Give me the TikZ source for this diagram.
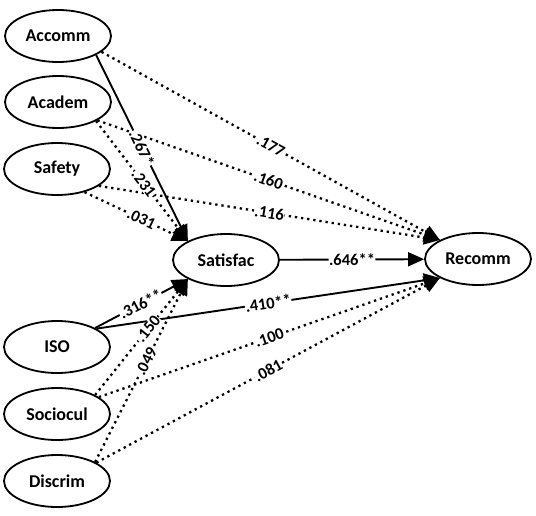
\documentclass[tikz,border=0pt]{standalone}
\usepackage{fontspec}
\setmainfont{Carlito}
\usetikzlibrary{shapes.geometric,arrows.meta}

\begin{document}
\begin{tikzpicture}[x=1pt, y=-1pt,
         var/.style={draw, ellipse, line width=1.8pt, minimum width=106pt, minimum height=52pt, inner sep=0pt, font=\fontsize{18}{18}\selectfont\bfseries},
         sig/.style={line width=1.9pt, -{Triangle[length=16pt,width=14pt]}},
         ns/.style={line width=2.3pt, dash pattern=on 2.3pt off 3.9pt, -{Triangle[length=16pt,width=14pt]}},
         coef/.style={fill=white, inner sep=0.5pt, sloped, font=\fontsize{16.5}{16.5}\selectfont\bfseries}]
         \useasboundingbox (0, 0) rectangle (536, 515);
         \node [var] (AC) at (58, 36) {Accomm}; 
         \node [var] (AD) at (58, 102) {Academ}; 
         \node [var] (SF) at (57, 169) {Safety}; 
         \node [var] (IS) at (57, 347) {ISO}; 
         \node [var] (SC) at (57, 414) {Sociocul}; 
         \node [var] (DS) at (57, 481) {Discrim}; 
         \node [var] (ST) at (226, 260) {Satisfac}; 
         \node [var] (RC) at (478, 259) {Recomm}; 
         \draw [ns] (AC.-20) -- node [coef] {.177} (RC.north west); 
         \draw [ns] (AD.-25) -- node [coef] {.160} (RC.north west); 
         \draw [ns] (SF.-22) -- node [coef] {.116} (RC.north west); 
         \draw [ns] (AD.south east) -- node [coef, pos=.52] {.231} (ST.north west); 
         \draw [ns] (SF.-40) -- node [coef, pos=.55] {.031} (ST.north west); 
         \draw [sig] (AC.south east) -- node [coef, pos=.5] {.267*} (ST.north west); 
         \draw [sig] (IS.25) -- node [coef] {.410**} (RC.south west); 
         \draw [ns] (SC.22) -- node [coef] {.100} (RC.south west); 
         \draw [ns] (DS.25) -- node [coef] {.081} (RC.south west); 
         \draw [ns] (SC.north east) -- node [coef, pos=.57] {.150} (ST.south west); 
         \draw [ns] (DS.north east) -- node [coef, pos=.55] {.049} (ST.south west); 
         \draw [sig] (IS.north east) -- node [coef, pos=.49] {.316**} (ST.south west); 
         \draw [sig] (ST) -- node [coef] {.646**} (RC); 
 \end{tikzpicture}
\end{document}
